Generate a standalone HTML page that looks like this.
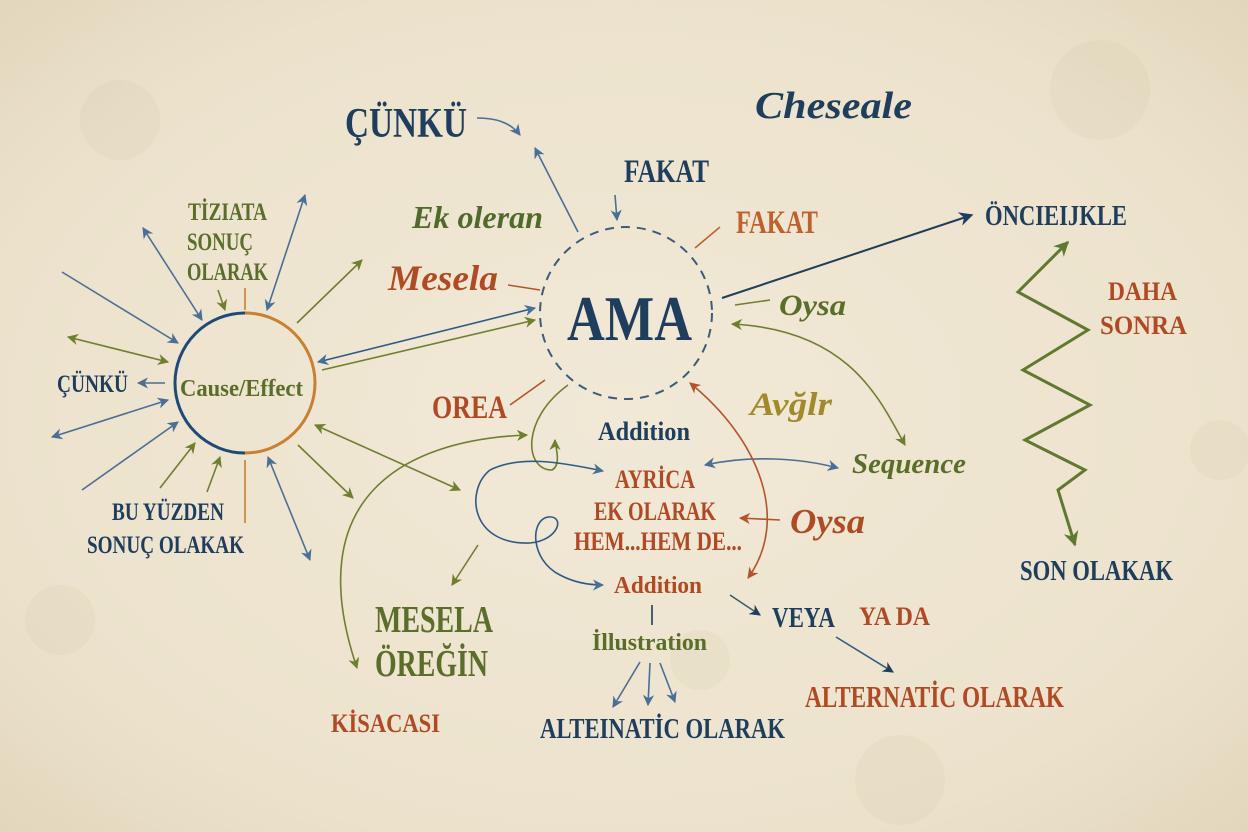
<!DOCTYPE html>
<html><head><meta charset="utf-8"><style>
html,body{margin:0;padding:0;}
body{width:1248px;height:832px;overflow:hidden;background:#eee4cf;}
svg{display:block;}
text{font-family:"Liberation Serif","DejaVu Serif",serif;font-weight:bold;}
</style></head><body>
<svg width="1248" height="832" viewBox="0 0 1248 832" xmlns="http://www.w3.org/2000/svg">
<defs>
<radialGradient id="bg" cx="50%" cy="50%" r="75%">
<stop offset="0" stop-color="#f1e9d7"/><stop offset="0.7" stop-color="#ece2cc"/><stop offset="1" stop-color="#e0d4b8"/>
</radialGradient>
<marker id="ab" viewBox="0 0 10 10" refX="9" refY="5" markerWidth="7" markerHeight="7" orient="auto-start-reverse"><path d="M0,0 L10,5 L0,10 L3,5z" fill="#4a6f96"/></marker>
<marker id="ag" viewBox="0 0 10 10" refX="9" refY="5" markerWidth="7" markerHeight="7" orient="auto-start-reverse"><path d="M0,0 L10,5 L0,10 L3,5z" fill="#6e7f30"/></marker>
<marker id="ar" viewBox="0 0 10 10" refX="9" refY="5" markerWidth="7" markerHeight="7" orient="auto-start-reverse"><path d="M0,0 L10,5 L0,10 L3,5z" fill="#b5532a"/></marker>
<marker id="an" viewBox="0 0 10 10" refX="9" refY="5" markerWidth="7" markerHeight="7" orient="auto-start-reverse"><path d="M0,0 L10,5 L0,10 L3,5z" fill="#1f3d5c"/></marker>
<marker id="agz" viewBox="0 0 10 10" refX="9" refY="5" markerWidth="5" markerHeight="5" orient="auto-start-reverse"><path d="M0,0 L10,5 L0,10 L3,5z" fill="#5f7a30"/></marker>
</defs>
<rect width="1248" height="832" fill="url(#bg)"/>
<g opacity="0.12" fill="#c8bb98">
<circle cx="120" cy="120" r="40"/><circle cx="1100" cy="90" r="50"/><circle cx="1220" cy="450" r="30"/><circle cx="60" cy="620" r="35"/><circle cx="900" cy="780" r="45"/><circle cx="700" cy="660" r="30"/>
</g>

<path d="M245,313 A70,70 0 0 0 245,453" fill="none" stroke="#1f4a78" stroke-width="3"/>
<path d="M245,313 A70,70 0 0 1 245,453" fill="none" stroke="#c98030" stroke-width="3"/>
<text x="180" y="396" font-size="24" fill="#5a6e2a" textLength="123" lengthAdjust="spacingAndGlyphs">Cause/Effect</text>

<g stroke-width="1.6" fill="none">
<line x1="143" y1="228" x2="202" y2="320" stroke="#4a6f96" marker-start="url(#ab)" marker-end="url(#ab)"/>
<line x1="305" y1="195" x2="267" y2="310" stroke="#4a6f96" marker-start="url(#ab)" marker-end="url(#ab)"/>
<line x1="297" y1="323" x2="362" y2="260" stroke="#6e7f30" marker-end="url(#ag)"/>
<line x1="62" y1="272" x2="178" y2="343" stroke="#4a6f96" marker-end="url(#ab)"/>
<line x1="68" y1="337" x2="168" y2="362" stroke="#6e7f30" marker-start="url(#ag)" marker-end="url(#ag)"/>
<line x1="165" y1="383" x2="138" y2="383" stroke="#4a6f96" marker-end="url(#ab)"/>
<line x1="52" y1="437" x2="168" y2="400" stroke="#4a6f96" marker-start="url(#ab)" marker-end="url(#ab)"/>
<line x1="82" y1="490" x2="178" y2="422" stroke="#4a6f96" marker-end="url(#ab)"/>
<line x1="160" y1="488" x2="195" y2="443" stroke="#6e7f30" marker-end="url(#ag)"/>
<line x1="207" y1="492" x2="220" y2="457" stroke="#6e7f30" marker-end="url(#ag)"/>
<line x1="218" y1="290" x2="225" y2="310" stroke="#6e7f30" marker-end="url(#ag)"/>
<line x1="245" y1="288" x2="245" y2="310" stroke="#c98030"/>
<line x1="245" y1="460" x2="245" y2="523" stroke="#c98030"/>
<line x1="268" y1="457" x2="310" y2="560" stroke="#4a6f96" marker-start="url(#ab)" marker-end="url(#ab)"/>
<line x1="298" y1="445" x2="353" y2="498" stroke="#6e7f30" marker-end="url(#ag)"/>
<line x1="315" y1="425" x2="460" y2="490" stroke="#6e7f30" marker-start="url(#ag)" marker-end="url(#ag)"/>
<line x1="318" y1="362" x2="535" y2="308" stroke="#2f5a86" marker-start="url(#ab)" marker-end="url(#ab)"/>
<line x1="322" y1="370" x2="535" y2="320" stroke="#6e7f30" marker-end="url(#ag)"/>
<path d="M527,435 C400,440 300,500 357,668" stroke="#6e7f30" marker-start="url(#ag)" marker-end="url(#ag)"/>
<path d="M477,118 C495,118 510,122 520,135" stroke="#4a6f96" marker-end="url(#ab)"/>
<line x1="578" y1="232" x2="535" y2="148" stroke="#4a6f96" marker-end="url(#ab)"/>
<line x1="615" y1="195" x2="617" y2="220" stroke="#4a6f96" marker-end="url(#ab)"/>
<line x1="720" y1="227" x2="695" y2="248" stroke="#c0602a"/>
<line x1="508" y1="285" x2="540" y2="290" stroke="#b5532a"/>
<line x1="722" y1="298" x2="972" y2="215" stroke="#1f3d5c" stroke-width="2" marker-end="url(#an)"/>
<line x1="735" y1="305" x2="770" y2="300" stroke="#6e7f30"/>
<path d="M732,324 C850,330 880,400 905,445" stroke="#6e7f30" marker-start="url(#ag)" marker-end="url(#ag)"/>
<line x1="510" y1="405" x2="545" y2="380" stroke="#b5532a"/>
<path d="M568,385 C520,420 525,470 552,470 C562,465 555,445 555,440" stroke="#6e7f30" marker-end="url(#ag)"/>
<path d="M490,470 C520,455 560,462 603,471" stroke="#2f5a86" marker-end="url(#ab)"/>
<path d="M490,470 C465,490 470,545 530,543 C560,540 565,515 548,517 C530,520 530,560 560,575 C575,583 590,585 603,585" stroke="#2f5a86" marker-end="url(#ab)"/>
<line x1="478" y1="545" x2="452" y2="585" stroke="#6e7f30" marker-end="url(#ag)"/>
<path d="M705,465 C750,455 800,458 838,468" stroke="#4a6f96" marker-start="url(#ab)" marker-end="url(#ab)"/>
<path d="M690,383 C760,440 790,520 748,578" stroke="#b5532a" marker-start="url(#ar)" marker-end="url(#ar)"/>
<line x1="780" y1="520" x2="740" y2="518" stroke="#b5532a" marker-end="url(#ar)"/>
<line x1="652" y1="605" x2="652" y2="625" stroke="#1f3d5c"/>
<line x1="640" y1="662" x2="613" y2="707" stroke="#4a6f96" marker-end="url(#ab)"/>
<line x1="650" y1="663" x2="648" y2="705" stroke="#4a6f96" marker-end="url(#ab)"/>
<line x1="660" y1="663" x2="675" y2="702" stroke="#4a6f96" marker-end="url(#ab)"/>
<line x1="730" y1="595" x2="760" y2="615" stroke="#3a5d6a" marker-end="url(#an)"/>
<line x1="836" y1="637" x2="893" y2="672" stroke="#2f5a86" marker-end="url(#an)"/>
</g>

<circle cx="626" cy="313" r="86" fill="none" stroke="#3a5d7a" stroke-width="2" stroke-dasharray="9,7"/>
<text x="567" y="340" font-size="64" fill="#1f3d5c" textLength="125" lengthAdjust="spacingAndGlyphs">AMA</text>

<polyline points="1068,242 1018,292 1088,330 1023,370 1090,405 1025,440 1085,470 1058,490 1075,545" fill="none" stroke="#5f7a30" stroke-width="3" marker-start="url(#agz)" marker-end="url(#agz)"/>

<g>
<text x="345" y="137" font-size="42" fill="#1f3d5c" textLength="122" lengthAdjust="spacingAndGlyphs">ÇÜNKÜ</text>
<text x="755" y="118" font-size="38" font-style="italic" fill="#1f3d5c" textLength="157" lengthAdjust="spacingAndGlyphs">Cheseale</text>
<text x="624" y="182" font-size="33" fill="#1f3d5c" textLength="85" lengthAdjust="spacingAndGlyphs">FAKAT</text>
<text x="412" y="228" font-size="32" font-style="italic" fill="#4f6a2a" textLength="131" lengthAdjust="spacingAndGlyphs">Ek oleran</text>
<text x="736" y="233" font-size="33" fill="#c0602a" textLength="82" lengthAdjust="spacingAndGlyphs">FAKAT</text>
<text x="388" y="290" font-size="36" font-style="italic" fill="#b04a25" textLength="110" lengthAdjust="spacingAndGlyphs">Mesela</text>
<text x="779" y="315" font-size="30" font-style="italic" fill="#5a6e2a" textLength="67" lengthAdjust="spacingAndGlyphs">Oysa</text>
<text x="985" y="225" font-size="28" fill="#1f3d5c" textLength="142" lengthAdjust="spacingAndGlyphs">ÖNCIEIJKLE</text>
<text x="1108" y="300" font-size="26" fill="#b04a25" textLength="69" lengthAdjust="spacingAndGlyphs">DAHA</text>
<text x="1100" y="334" font-size="26" fill="#b04a25" textLength="87" lengthAdjust="spacingAndGlyphs">SONRA</text>
<text x="1020" y="580" font-size="28" fill="#1f3d5c" textLength="153" lengthAdjust="spacingAndGlyphs">SON OLAKAK</text>
<text x="188" y="220" font-size="25" fill="#5a6e2a" textLength="79" lengthAdjust="spacingAndGlyphs">TİZIATA</text>
<text x="187" y="250" font-size="25" fill="#5a6e2a" textLength="66" lengthAdjust="spacingAndGlyphs">SONUÇ</text>
<text x="187" y="280" font-size="25" fill="#5a6e2a" textLength="81" lengthAdjust="spacingAndGlyphs">OLARAK</text>
<text x="57" y="392" font-size="25" fill="#1f3d5c" textLength="71" lengthAdjust="spacingAndGlyphs">ÇÜNKÜ</text>
<text x="112" y="520" font-size="25" fill="#1f3d5c" textLength="112" lengthAdjust="spacingAndGlyphs">BU YÜZDEN</text>
<text x="87" y="553" font-size="25" fill="#1f3d5c" textLength="157" lengthAdjust="spacingAndGlyphs">SONUÇ OLAKAK</text>
<text x="432" y="418" font-size="33" fill="#b04a25" textLength="75" lengthAdjust="spacingAndGlyphs">OREA</text>
<text x="598" y="440" font-size="26" fill="#1f3d5c" textLength="92" lengthAdjust="spacingAndGlyphs">Addition</text>
<text x="750" y="415" font-size="33" font-style="italic" fill="#a08a2a" textLength="82" lengthAdjust="spacingAndGlyphs">Avğlr</text>
<text x="852" y="473" font-size="28" font-style="italic" fill="#5a6e2a" textLength="114" lengthAdjust="spacingAndGlyphs">Sequence</text>
<text x="615" y="488" font-size="26" fill="#b04a25" textLength="80" lengthAdjust="spacingAndGlyphs">AYRİCA</text>
<text x="594" y="520" font-size="26" fill="#b04a25" textLength="122" lengthAdjust="spacingAndGlyphs">EK OLARAK</text>
<text x="574" y="550" font-size="26" fill="#b04a25" textLength="168" lengthAdjust="spacingAndGlyphs">HEM...HEM DE...</text>
<text x="790" y="533" font-size="35" font-style="italic" fill="#b04a25" textLength="75" lengthAdjust="spacingAndGlyphs">Oysa</text>
<text x="614" y="593" font-size="24" fill="#b04a25" textLength="88" lengthAdjust="spacingAndGlyphs">Addition</text>
<text x="592" y="650" font-size="24" fill="#5a6e2a" textLength="115" lengthAdjust="spacingAndGlyphs">İllustration</text>
<text x="772" y="627" font-size="29" fill="#1f3d5c" textLength="63" lengthAdjust="spacingAndGlyphs">VEYA</text>
<text x="859" y="625" font-size="26" fill="#b04a25" textLength="71" lengthAdjust="spacingAndGlyphs">YA DA</text>
<text x="375" y="632" font-size="38" fill="#5a6e2a" textLength="118" lengthAdjust="spacingAndGlyphs">MESELA</text>
<text x="375" y="676" font-size="38" fill="#5a6e2a" textLength="113" lengthAdjust="spacingAndGlyphs">ÖREĞİN</text>
<text x="331" y="732" font-size="26" fill="#b04a25" textLength="109" lengthAdjust="spacingAndGlyphs">KİSACASI</text>
<text x="540" y="738" font-size="29" fill="#1f3d5c" textLength="245" lengthAdjust="spacingAndGlyphs">ALTEINATİC OLARAK</text>
<text x="805" y="707" font-size="31" fill="#b04a25" textLength="259" lengthAdjust="spacingAndGlyphs">ALTERNATİC OLARAK</text>
</g>
</svg>
</body></html>
